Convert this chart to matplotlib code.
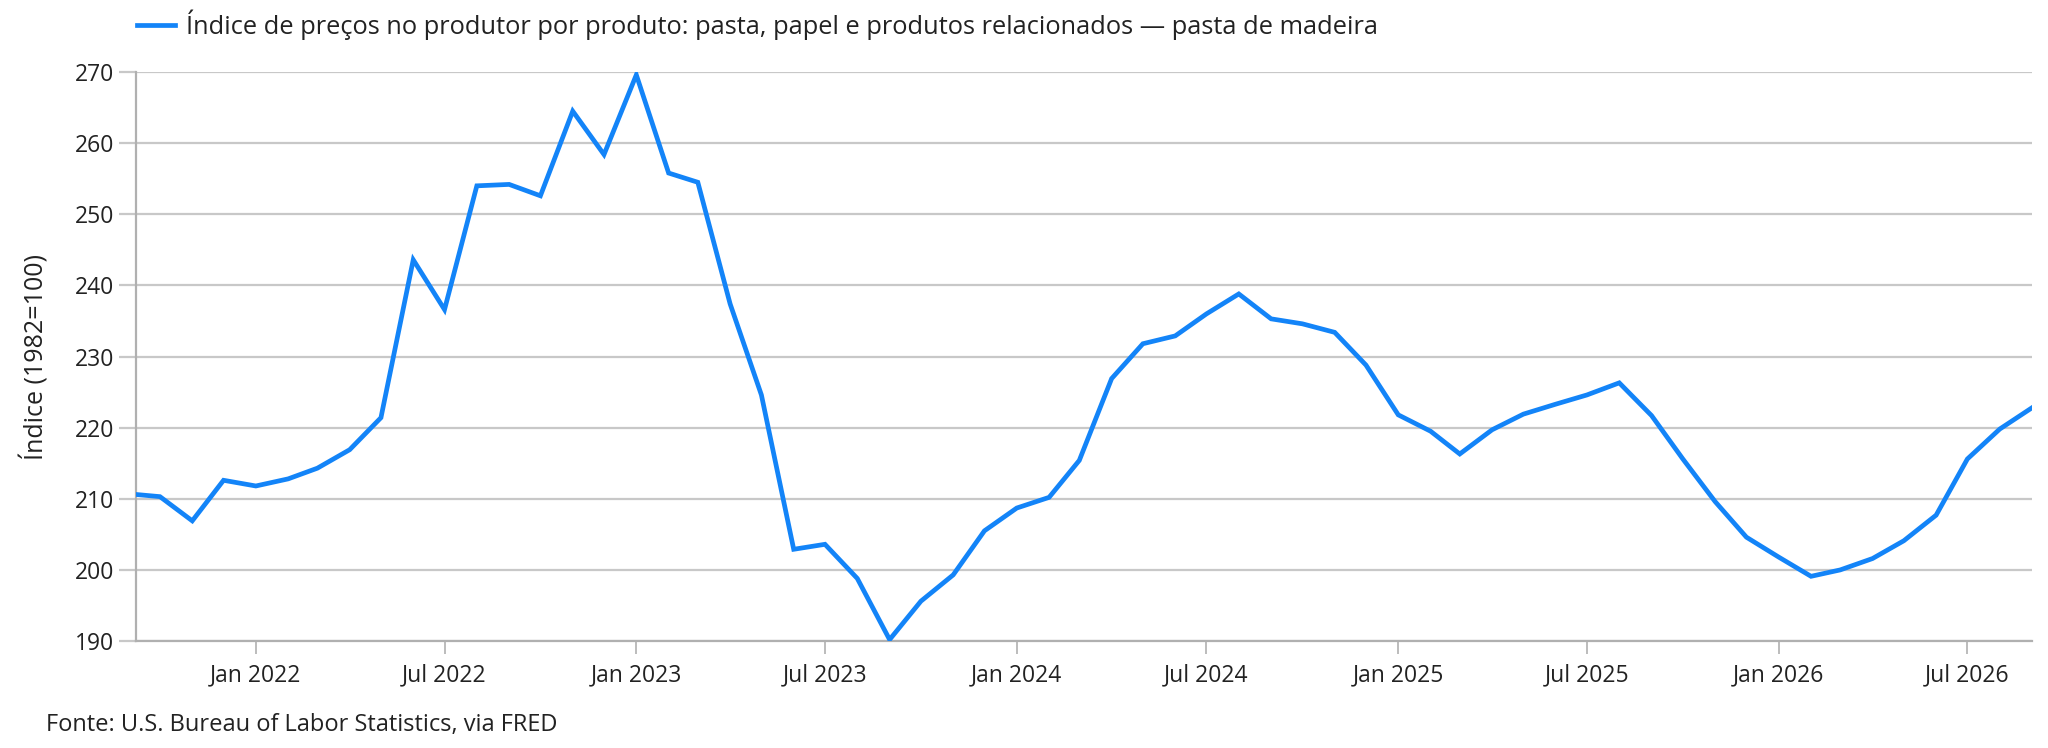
import matplotlib
matplotlib.use("Agg")
import matplotlib.pyplot as plt
from matplotlib.lines import Line2D
import pandas as pd

plt.rcParams['font.family'] = ['Open Sans', 'DejaVu Sans']

# monthly observations, Sep 2021 .. Sep 2026
dates = pd.date_range("2021-09-01", "2026-09-01", freq="MS")
values = [
    210.7, 210.3, 206.9, 212.6,
    211.8, 212.8, 214.3, 216.9, 221.4, 243.6, 236.6, 254.0, 254.2, 252.6, 264.5, 258.4,
    269.6, 255.8, 254.5, 237.4, 224.6, 202.9, 203.6, 198.8, 190.2, 195.6, 199.3, 205.5,
    208.7, 210.2, 215.4, 226.9, 231.8, 232.9, 236.0, 238.8, 235.3, 234.6, 233.4, 228.8,
    221.8, 219.5, 216.3, 219.7, 221.9, 223.3, 224.6, 226.3, 221.7, 215.6, 209.6, 204.6,
    201.8, 199.1, 200.0, 201.6, 204.1, 207.7, 215.6, 219.8, 222.8,
]
tick_dates = pd.date_range("2022-01-01", "2026-07-01", freq="6MS")
tick_labels = [d.strftime("%b %Y") for d in tick_dates]
yticks = [190, 200, 210, 220, 230, 240, 250, 260, 270]

series_label = ("Índice de preços no produtor por produto: pasta, papel e produtos "
                "relacionados — pasta de madeira")
line_color = '#1384f8'
grid_color = '#c8c8c8'
text_color = '#222222'

fig = plt.figure(figsize=(20.48, 7.48), dpi=100)
ax = fig.add_axes([0.0664, 0.143, 0.9258, 0.7607])

ax.plot(dates, values, color=line_color, linewidth=3.4, solid_joinstyle='miter', zorder=3)

ax.set_xlim(pd.Timestamp("2021-09-08"), pd.Timestamp("2026-09-01"))
ax.set_ylim(190, 270)
ax.set_yticks(yticks)
ax.set_xticks(tick_dates)
ax.set_xticklabels(tick_labels)

ax.grid(axis='y', color=grid_color, linewidth=1.6)
ax.set_axisbelow(True)
for side in ['top', 'right']:
    ax.spines[side].set_visible(False)
for side in ['left', 'bottom']:
    ax.spines[side].set_color('#b0b0b0')
    ax.spines[side].set_linewidth(1.6)

ax.tick_params(axis='y', length=12, width=1.6, color=grid_color, labelsize=16.5,
               labelcolor=text_color, pad=4)
ax.tick_params(axis='x', length=9, width=1.2, color='#b0b0b0', labelsize=16.5,
               labelcolor=text_color, pad=7)

ax.set_ylabel("Índice (1982=100)", fontsize=18, color=text_color, labelpad=18)

handle = Line2D([0], [0], color=line_color, linewidth=3.4)
fig.legend([handle], [series_label], loc='center left', bbox_to_anchor=(0.0555, 0.967),
           frameon=False, fontsize=18.3, handlelength=1.5, handletextpad=0.45,
           labelcolor=text_color)

fig.text(0.0225, 0.031, "Fonte: U.S. Bureau of Labor Statistics, via FRED",
         fontsize=17, color=text_color, va='center', ha='left')

fig.savefig("out.png", dpi=100, facecolor='white')
